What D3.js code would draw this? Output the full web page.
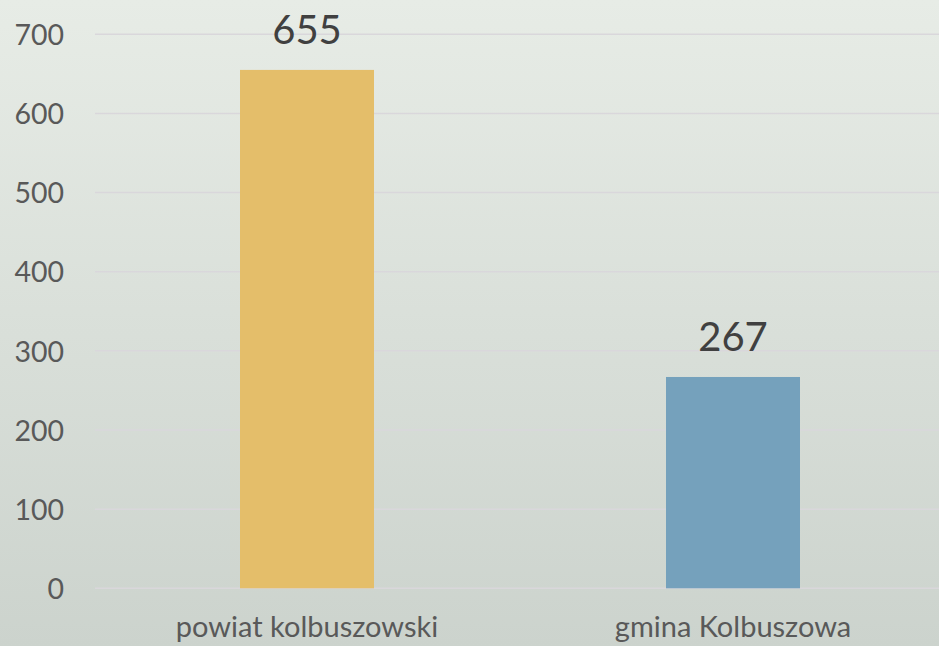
<!DOCTYPE html>
<html>
<head>
<meta charset="utf-8">
<script src="https://d3js.org/d3.v7.min.js"></script>
<style>
html,body{margin:0;padding:0;overflow:hidden;}
svg{display:block;}
</style>
</head>
<body>
<script>
const categories = ["powiat kolbuszowski", "gmina Kolbuszowa"];
const values = [655, 267];
const barColors = ["#E4BE6A", "#75A1BC"];
const yTicks = [0, 100, 200, 300, 400, 500, 600, 700];

const W = 939, H = 646;
const svg = d3.select("body").append("svg").attr("width", W).attr("height", H);

const defs = svg.append("defs");
const grad = defs.append("linearGradient").attr("id", "bg").attr("x1", 0).attr("y1", 0).attr("x2", 0).attr("y2", 1);
grad.append("stop").attr("offset", "0%").attr("stop-color", "#E7ECE6");
grad.append("stop").attr("offset", "100%").attr("stop-color", "#CCD3CD");
svg.append("rect").attr("width", W).attr("height", H).attr("fill", "url(#bg)");

const x = d3.scaleBand().domain(categories).range([94, 946]).paddingInner(0.6855).paddingOuter(0.34275);
const y = d3.scaleLinear().domain([0, 700]).range([588.3, 34.3]);

const font = "Lato, 'Open Sans', sans-serif";

// gridlines
svg.append("g").selectAll("line").data(yTicks).join("line")
  .attr("x1", 95).attr("x2", W)
  .attr("y1", d => y(d)).attr("y2", d => y(d))
  .attr("stroke", "#D9D7DB").attr("stroke-width", 1.5);

// y axis labels
const yAxis = d3.axisLeft(y).tickValues(yTicks).tickSize(0).tickPadding(0);
const gy = svg.append("g").attr("transform", "translate(64,0)").call(yAxis);
gy.select(".domain").remove();
gy.selectAll("text").attr("font-family", font).attr("font-size", 28.5)
  .attr("fill", "#595959").attr("dy", "0.36em");

// bars
const bw = 134;
svg.append("g").selectAll("rect").data(values).join("rect")
  .attr("x", (d, i) => x(categories[i]) + x.bandwidth() / 2 - bw / 2)
  .attr("width", bw)
  .attr("y", d => y(d))
  .attr("height", d => y(0) - y(d))
  .attr("fill", (d, i) => barColors[i]);

// value labels
svg.append("g").selectAll("text").data(values).join("text")
  .attr("x", (d, i) => x(categories[i]) + x.bandwidth() / 2)
  .attr("y", d => y(d) - 25.5)
  .attr("text-anchor", "middle")
  .attr("font-family", font).attr("font-size", 40)
  .attr("fill", "#404040")
  .text(d => d);

// category labels
const xAxis = d3.axisBottom(x).tickSize(0).tickPadding(0);
const gx = svg.append("g").attr("transform", "translate(0,637)").call(xAxis);
gx.select(".domain").remove();
gx.selectAll("text").attr("font-family", font).attr("font-size", 29)
  .attr("fill", "#595959").attr("dy", 0).attr("y", 0);
</script>
</body>
</html>
